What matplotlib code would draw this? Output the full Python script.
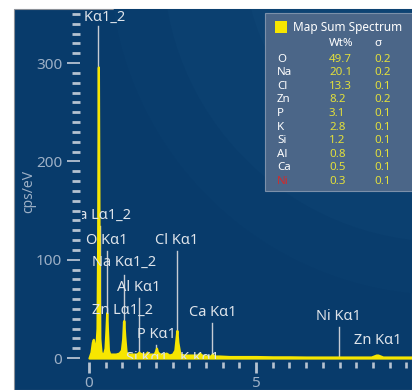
import matplotlib
matplotlib.use("Agg")
import matplotlib.pyplot as plt
from matplotlib.patches import Rectangle, Circle
from matplotlib.ticker import MultipleLocator

plt.rcParams['font.family'] = ['Noto Sans', 'DejaVu Sans']

# spectrum (keV, cps/eV)
energy = [0.00, 0.06, 0.10, 0.13, 0.16, 0.20, 0.24, 0.26, 0.28, 0.30, 0.32, 0.36,
          0.40, 0.44, 0.48, 0.51, 0.53, 0.55, 0.58, 0.62, 0.70, 0.80, 0.90, 0.97,
          1.01, 1.04, 1.07, 1.11, 1.18, 1.30, 1.42, 1.47, 1.49, 1.52, 1.60, 1.70,
          1.74, 1.78, 1.86, 1.95, 1.99, 2.02, 2.05, 2.12, 2.22, 2.31, 2.40, 2.50,
          2.57, 2.60, 2.63, 2.66, 2.72, 2.85, 3.05, 3.25, 3.31, 3.37, 3.50, 3.64,
          3.69, 3.74, 3.90, 4.20, 4.60, 5.00, 5.50, 6.00, 6.50, 7.00, 7.50, 8.00,
          8.45, 8.60, 8.65, 8.80, 9.20, 9.70]
counts = [0, 6, 16, 19, 12, 8, 30, 120, 296, 120, 20, 6,
          4, 5, 10, 30, 46, 30, 8, 4, 4, 4, 5, 8,
          20, 38, 22, 6, 4, 4, 4, 5, 6, 5, 4, 4,
          6, 4, 4, 4, 7, 10, 6, 4, 4, 5, 3, 4,
          8, 18, 28, 16, 4, 3, 3, 3, 5, 3, 2, 2,
          4, 2, 2, 1.5, 1.5, 1.5, 1.2, 1.2, 1, 1, 1, 1,
          1, 3, 3, 1, 1, 1]

# peak markers: label, line energy, label height, top of marker line
peak_labels = ["C Kα1_2", "Ca Lα1_2", "O Kα1", "Na Kα1_2", "Al Kα1", "Zn Lα1_2",
               "P Kα1", "Cl Kα1", "Ca Kα1", "Ni Kα1", "Zn Kα1", "Si Kα1", "K Kα1"]
peak_energy = [0.277, 0.341, 0.525, 1.041, 1.486, 1.012,
               2.013, 2.622, 3.691, 7.477, 8.638, 1.740, 3.313]
label_y = [346, 145, 120, 97, 72, 48, 24, 120, 46, 42, 18, 0, 0]
line_top = [338, 134, 109, 84, 61, 37, 13, 109, 36, 32, 0, 0, 0]

# quant table
elements = ["O", "Na", "Cl", "Zn", "P", "K", "Si", "Al", "Ca", "Ni"]
wt_pct = ["49.7", "20.1", "13.3", "8.2", "3.1", "2.8", "1.2", "0.8", "0.5", "0.3"]
sigma = ["0.2", "0.2", "0.1", "0.2", "0.1", "0.1", "0.1", "0.1", "0.1", "0.1"]

W, H = 412, 390
fig = plt.figure(figsize=(W / 100, H / 100), dpi=100)
fig.patch.set_facecolor("white")

# background panel with faint arcs
bg = fig.add_axes([0, 0, 1, 1])
bg.set_xlim(0, W)
bg.set_ylim(H, 0)
bg.axis("off")
panel = Rectangle((14, 9), W - 14, H - 9, facecolor="#083b6b", edgecolor="#8c9198", lw=0.8)
bg.add_patch(panel)
for r, c in [(335, "#093d6d"), (282, "#0b4070"), (200, "#0d4373")]:
    circ = Circle((445, -40), r, facecolor=c, edgecolor="none")
    bg.add_patch(circ)
    circ.set_clip_path(panel)

txt = "#dfe4ea"
tick_c = "#b5c2d1"
lab_c = "#9db0c6"

ax = fig.add_axes([82 / W, 1 - 359 / H, (W - 82) / W, 350 / H])
ax.set_facecolor("none")
ax.set_xlim(-0.21, 9.67)
ax.set_ylim(-1, 355)
for s in ax.spines.values():
    s.set_visible(False)
ax.spines["bottom"].set_position(("outward", 2.2))
ax.spines["left"].set_position(("outward", 1.4))

for e, top in zip(peak_energy, line_top):
    if top > 0:
        ax.plot([e, e], [0, top], color="#c7ccd4", lw=1.0, zorder=1)

ax.fill_between(energy, counts, 0, color="#f7e600", lw=1.6, edgecolor="#f7e600", zorder=2)

for lab, e, y in zip(peak_labels, peak_energy, label_y):
    ax.text(e, y, lab, color=txt, fontsize=10.5, ha="center", va="center",
            clip_on=True, zorder=3)

ax.set_xticks([0, 5])
ax.xaxis.set_minor_locator(MultipleLocator(0.5))
ax.set_yticks([0, 100, 200, 300])
ax.yaxis.set_minor_locator(MultipleLocator(10))
ax.tick_params(axis="x", which="major", direction="out", length=8, width=2,
               color=tick_c, labelcolor=lab_c, labelsize=11, pad=2)
ax.tick_params(axis="x", which="minor", direction="out", length=4.3, width=1.9,
               color=tick_c)
ax.tick_params(axis="y", which="major", direction="out", length=9.4, width=1.3,
               color=tick_c, labelcolor=lab_c, labelsize=11, pad=3.5)
ax.tick_params(axis="y", which="minor", direction="out", length=5.5, width=2,
               color=tick_c)
ax.set_ylabel("cps/eV", color=lab_c, fontsize=10)
ax.yaxis.set_label_coords(-0.14, 0.48)

# legend / quant table overlay
ov = fig.add_axes([0, 0, 1, 1], zorder=5)
ov.set_xlim(0, W)
ov.set_ylim(H, 0)
ov.axis("off")
ov.add_patch(Rectangle((265, 13), 150, 178, facecolor="#4b6688", edgecolor="#7b90aa", lw=0.8))
ov.add_patch(Rectangle((275, 21), 12, 12, facecolor="#f7e600", edgecolor="none"))
ov.text(293, 27, "Map Sum Spectrum", color="white", fontsize=8.5, va="center")
ov.text(329, 43, "Wt%", color="white", fontsize=8.3, va="center", fontweight="bold")
ov.text(374, 43, "σ", color="white", fontsize=8.3, va="center", fontweight="bold")
for i, (el, w, s) in enumerate(zip(elements, wt_pct, sigma)):
    y = 59 + i * 13.6
    ov.text(277, y, el, color="#d42a2a" if el == "Ni" else "white", fontsize=8.3, va="center")
    ov.text(329, y, w, color="#e3e03a", fontsize=8.3, va="center")
    ov.text(374, y, s, color="#e3e03a", fontsize=8.3, va="center")

fig.savefig("out.png", dpi=100)
